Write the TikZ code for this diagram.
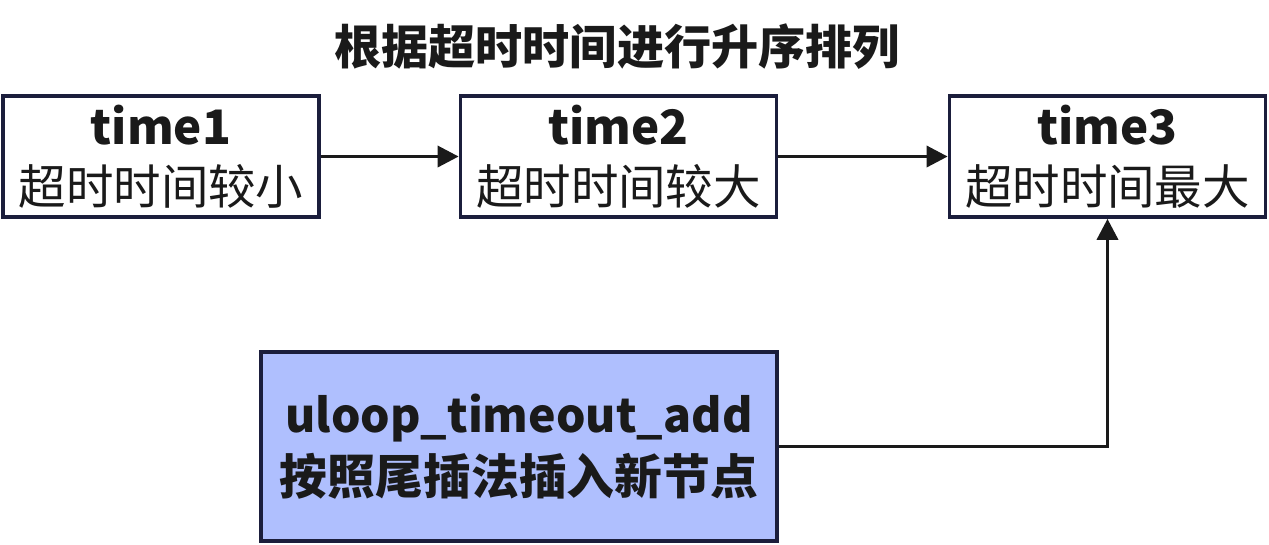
\documentclass[tikz,border=0pt]{standalone}
\usepackage{fontspec}
\setmainfont{Noto Sans CJK SC}
\usetikzlibrary{arrows.meta}
\definecolor{boxline}{HTML}{1B1E3C}
\definecolor{addfill}{HTML}{AFBFFE}
\definecolor{ink}{HTML}{1A1A1A}

\begin{document}
\begin{tikzpicture}[x=0.01cm, y=-0.01cm, line width=1pt, text=ink]
	\tikzstyle{timebox} = [rectangle, draw=boxline, fill=white, align=center, inner sep=0pt, minimum width=3.16cm, minimum height=1.21cm, font=\fontsize{13.5}{17}\selectfont]
	\tikzstyle{addbox}  = [rectangle, draw=boxline, fill=addfill, align=center, inner sep=0pt, minimum width=5.16cm, minimum height=1.89cm, font=\bfseries\fontsize{13.6}{17.5}\selectfont]
	\tikzstyle{arr}     = [draw=ink, -{Triangle[length=6pt, width=6pt]}]

	\useasboundingbox (0,0) rectangle (1269,544);

	\node[font=\bfseries\fontsize{13.4}{16}\selectfont] (title) at (617,47) {根据超时时间进行升序排列};

	\foreach \name/\x/\t/\s in {t1/161/time1/超时时间较小, t2/618.5/time2/超时时间较大, t3/1107.5/time3/超时时间最大}
		\node[timebox] (\name) at (\x,156.5) {\textbf{\t}\\\s};

	\node[addbox] (add) at (519,446.5) {{\fontsize{13.2}{17.5}\selectfont uloop\_timeout\_add}\\按照尾插法插入新节点};

	\foreach \from/\to in {t1/t2, t2/t3}
		\draw[arr] (\from) -- (\to);
	\draw[arr] (add.east) -| (t3.south);
\end{tikzpicture}
\end{document}
